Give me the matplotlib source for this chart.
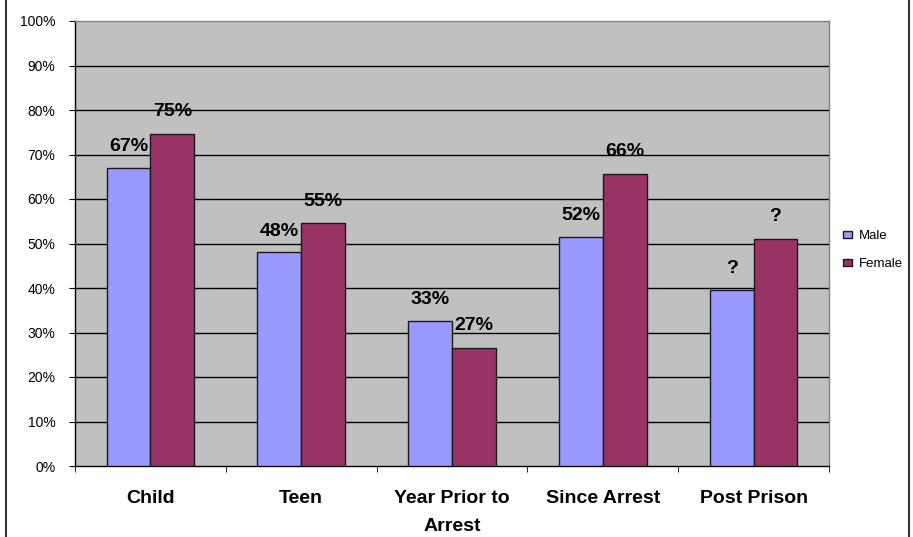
import matplotlib
matplotlib.use("Agg")
import matplotlib.pyplot as plt
from matplotlib.lines import Line2D
import numpy as np

plt.rcParams['font.family'] = ['Liberation Sans', 'DejaVu Sans']

categories = ["Child", "Teen", "Year Prior to\nArrest", "Since Arrest", "Post Prison"]
male = [0.67, 0.48, 0.326, 0.515, 0.396]
female = [0.746, 0.545, 0.266, 0.657, 0.51]
male_labels = ["67%", "48%", "33%", "52%", "?"]
female_labels = ["75%", "55%", "27%", "66%", "?"]
yticks = [0, 0.1, 0.2, 0.3, 0.4, 0.5, 0.6, 0.7, 0.8, 0.9, 1.0]
ytick_labels = ["0%", "10%", "20%", "30%", "40%", "50%", "60%", "70%", "80%", "90%", "100%"]

fig = plt.figure(figsize=(9.13, 5.37), dpi=100)
ax = fig.add_axes([75/913, 1-466/537, (829-75)/913, (466-21)/537])
ax.set_facecolor('#C0C0C0')

x = np.arange(len(categories))
w = 0.29
bm = ax.bar(x - w/2, male, width=w, color='#9999FF', edgecolor='#1a1a1a', linewidth=1, label='Male', zorder=3)
bf = ax.bar(x + w/2, female, width=w, color='#993366', edgecolor='#1a1a1a', linewidth=1, label='Female', zorder=3)

for xi, v, t in zip(x, male, male_labels):
    ax.annotate(t, (xi - w/2, v), xytext=(0, 9), textcoords='offset points',
                ha='center', va='bottom', fontsize=14, fontweight='bold', zorder=4)
for xi, v, t in zip(x, female, female_labels):
    ax.annotate(t, (xi + w/2, v), xytext=(0, 10), textcoords='offset points',
                ha='center', va='bottom', fontsize=14, fontweight='bold', zorder=4)

ax.set_ylim(0, 1.0)
ax.set_xlim(-0.5, len(categories) - 0.5)
ax.set_yticks(yticks)
ax.set_yticklabels(ytick_labels, fontsize=10)
for yv in yticks[1:-1]:
    ax.axhline(yv, color='black', linewidth=1, zorder=1)

ax.set_xticks(x)
ax.set_xticklabels(categories, fontsize=14, fontweight='bold')
for lbl in ax.get_xticklabels():
    lbl.set_linespacing(1.9)
ax.set_xticks(np.arange(-0.5, len(categories), 1.0), minor=True)
ax.tick_params(axis='x', which='major', length=0, pad=17)
ax.tick_params(axis='x', which='minor', length=4, direction='out', color='black')
ax.tick_params(axis='y', length=4, direction='out', pad=10, color='black')

ax.spines['left'].set_color('black')
ax.spines['bottom'].set_color('black')
ax.spines['top'].set_color('#808080')
ax.spines['right'].set_color('#808080')
for s in ax.spines.values():
    s.set_linewidth(1)

fig.legend(handles=[bm, bf], labels=['Male', 'Female'], loc='upper left',
           bbox_to_anchor=(843/913, 1-230/537), frameon=False, fontsize=9.5,
           handlelength=0.65, handleheight=0.45, handletextpad=0.55, labelspacing=1.2,
           borderaxespad=0, borderpad=0)

fig.add_artist(Line2D([6/913, 6/913], [0, 1], color='#333333', linewidth=1.5))
fig.add_artist(Line2D([909/913, 909/913], [0, 1], color='#333333', linewidth=1.5))

fig.savefig('out.png', dpi=100)
